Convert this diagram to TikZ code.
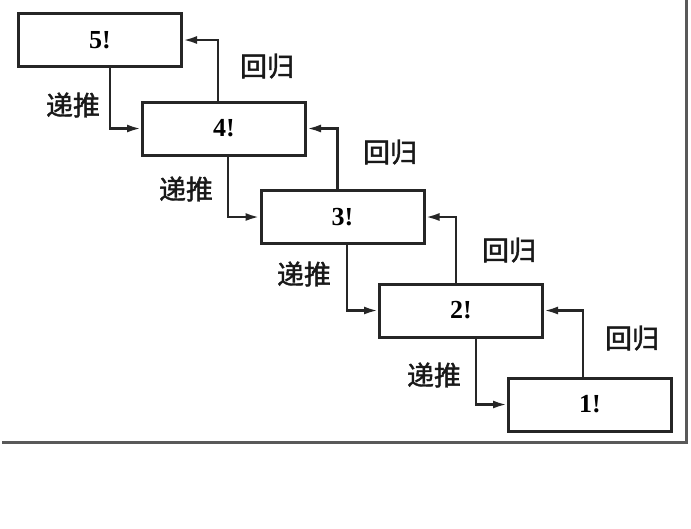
\documentclass[tikz,border=0pt]{standalone}
\usepackage{fontspec}
\setmainfont{Liberation Serif}
\newfontfamily\cjk{Noto Sans CJK SC}[FakeBold=1.5]
\usetikzlibrary{arrows.meta}
\tikzset{
  factbox/.style={draw=black!85, line width=3pt, minimum width=163pt, minimum height=53pt, inner sep=0pt, font=\fontsize{26}{30}\selectfont\bfseries},
  conn/.style={draw=black!85, line width=2.5pt, -{Latex[length=14pt,width=8pt]}},
  lbl/.style={font=\cjk\fontsize{27}{30}\selectfont, text=black!90, inner sep=0pt},
  frameline/.style={draw=black!65, line width=3pt}
}
\begin{document}
\begin{tikzpicture}[x=1pt,y=-1pt]
\useasboundingbox (0,0) rectangle (691,528);
% frame lines (right and bottom)
\coordinate (ftr) at (686,0);
\coordinate (fbr) at (686,442);
\coordinate (fbl) at (2,442);
\draw[frameline] (ftr) -- (fbr) -- (fbl);
% boxes
\node[factbox] (b5) at (100,40) {5!};
\node[factbox] (b4) at (224,128.5) {4!};
\node[factbox] (b3) at (342.5,217) {3!};
\node[factbox] (b2) at (461,310.5) {2!};
\node[factbox] (b1) at (590,404.5) {1!};
% recursion (递推)
\draw[conn] ([xshift=10pt]b5.south) |- (b4.west);
\draw[conn] ([xshift=4pt]b4.south) |- (b3.west);
\draw[conn] ([xshift=4.5pt]b3.south) |- (b2.west);
\draw[conn] ([xshift=15pt]b2.south) |- (b1.west);
% return (回归)
\draw[conn] ([xshift=-6pt]b4.north) |- (b5.east);
\draw[conn] ([xshift=-5pt]b3.north) |- (b4.east);
\draw[conn] ([xshift=-5pt]b2.north) |- (b3.east);
\draw[conn] ([xshift=-7pt]b1.north) |- (b2.east);
% labels
\node[lbl] (d1) at (73,105) {递推};
\node[lbl] (d2) at (186,189) {递推};
\node[lbl] (d3) at (304,274) {递推};
\node[lbl] (d4) at (434,375) {递推};
\node[lbl] (h1) at (267,66) {回归};
\node[lbl] (h2) at (390,152) {回归};
\node[lbl] (h3) at (509,250) {回归};
\node[lbl] (h4) at (632,338) {回归};
\end{tikzpicture}
\end{document}
